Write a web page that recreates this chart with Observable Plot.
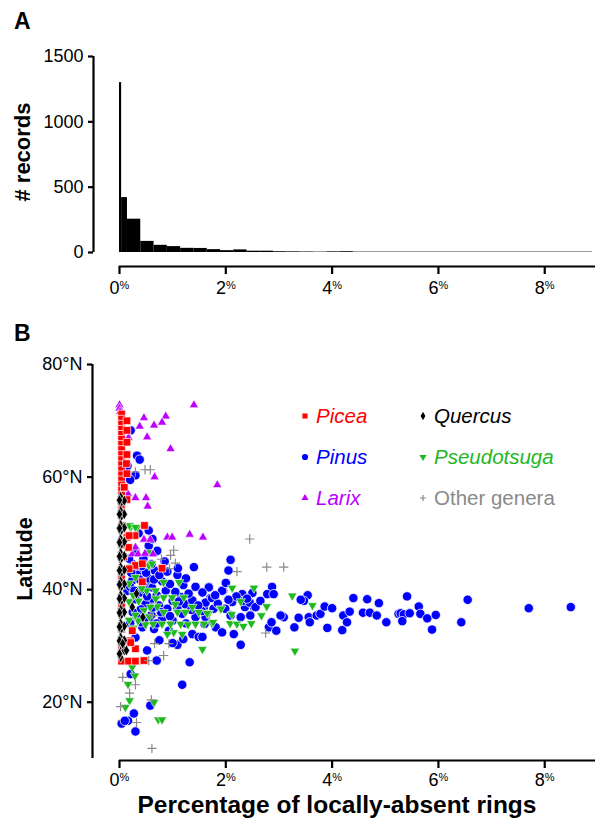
<!DOCTYPE html>
<html><head><meta charset="utf-8">
<script src="https://cdn.jsdelivr.net/npm/d3@7"></script>
<script src="https://cdn.jsdelivr.net/npm/@observablehq/plot@0.6"></script>
<style>
html,body{margin:0;padding:0;background:#fff;}
#root{position:relative;width:595px;height:821px;overflow:hidden;font-family:"Liberation Sans",Arial,Helvetica,sans-serif;}
</style></head><body><div id="root"></div>
<script>
const FONT = '"Liberation Sans", Arial, Helvetica, sans-serif';

// ---------- Panel A: histogram of % locally-absent rings ----------
const binLo = [0, 0.04, 0.15, 0.40, 0.65, 0.90, 1.15, 1.40, 1.65, 1.90, 2.15, 2.40, 2.65, 2.90, 3.15, 3.40, 3.65, 3.90, 4.15, 4.40, 4.65, 4.90, 5.15, 5.40, 5.65, 5.90, 6.15, 6.40, 6.65, 6.90, 7.15, 7.40, 7.65, 7.90, 8.15, 8.40, 8.65];
const binHi = [0.04, 0.15, 0.40, 0.65, 0.90, 1.15, 1.40, 1.65, 1.90, 2.15, 2.40, 2.65, 2.90, 3.15, 3.40, 3.65, 3.90, 4.15, 4.40, 4.65, 4.90, 5.15, 5.40, 5.65, 5.90, 6.15, 6.40, 6.65, 6.90, 7.15, 7.40, 7.65, 7.90, 8.15, 8.40, 8.65, 8.90];
const binCount = [1300, 420, 255, 85, 55, 45, 32, 31, 22, 14, 20, 10, 10, 6, 5, 4, 3, 5, 6, 3, 3, 3, 3, 3, 3, 3, 3, 3, 3, 3, 3, 3, 3, 3, 3, 3, 3];
const countTicks = [0, 500, 1000, 1500];
const pctTicks = [0, 2, 4, 6, 8];

// ---------- Panel B: latitude vs % locally-absent rings, by genus ----------
const latTicks = [20, 40, 60, 80];
const pinus = [[2.09,45.3],[2.05,43.4],[1.68,40.5],[1.95,39.8],[1.71,38.5],[2.12,37.8],[2.36,36.9],[2.53,36.9],[2.87,40.5],[2.78,39.2],[2.90,39.2],[2.31,39.2],[2.50,39.4],[2.33,38.0],[2.45,37.7],[2.56,36.9],[1.59,36.9],[1.77,36.6],[1.99,36.6],[2.09,35.4],[2.28,35.1],[2.46,35.4],[1.60,33.9],[1.81,33.3],[2.15,32.1],[2.28,30.2],[2.81,33.3],[2.95,32.7],[2.86,34.2],[3.09,35.1],[3.37,35.0],[3.29,33.3],[3.54,39.0],[3.47,38.0],[3.41,38.2],[3.56,35.1],[3.58,34.2],[3.71,35.4],[3.78,35.7],[3.86,37.0],[4.00,36.7],[3.91,33.2],[4.21,35.4],[4.28,34.2],[4.19,32.8],[4.33,36.1],[4.40,38.5],[4.58,35.9],[4.66,38.3],[4.71,35.9],[4.84,35.4],[4.88,37.6],[5.02,34.2],[5.25,35.7],[5.41,38.8],[5.63,37.0],[5.29,35.8],[5.35,35.6],[5.46,35.8],[5.66,35.7],[5.79,34.9],[5.95,35.5],[5.32,34.4],[5.88,32.9],[6.55,38.2],[6.43,34.2],[7.70,36.7],[8.49,36.9],[1.40,44.0],[1.09,42.6],[0.66,43.4],[0.71,46.9],[1.68,40.4],[1.43,40.5],[1.56,39.5],[1.15,38.7],[1.05,39.6],[0.87,39.8],[0.61,40.4],[0.49,41.4],[0.58,38.0],[0.74,37.2],[0.90,36.6],[1.09,36.7],[1.24,37.4],[1.37,38.1],[1.62,37.7],[1.74,38.5],[1.93,39.8],[1.18,35.7],[1.43,35.1],[1.62,35.1],[0.36,43.4],[0.33,42.6],[0.24,41.6],[0.40,39.5],[0.49,37.4],[0.33,35.1],[0.43,33.3],[0.65,33.0],[0.93,32.7],[1.37,32.1],[1.49,31.6],[0.52,29.2],[0.70,27.4],[1.09,30.2],[1.32,27.1],[1.18,23.1],[0.21,25.0],[0.58,19.4],[0.27,18.0],[0.16,16.7],[0.04,16.2],[0.30,14.8],[0.10,16.7],[0.33,63.8],[0.38,63.1],[0.30,60.3],[0.21,68.3],[0.15,62.0],[0.20,59.5],[3.03,35.4],[1.56,31.6],[1.93,32.4],[0.55,42.0],[0.80,41.5],[0.95,41.0],[1.20,40.8],[0.70,39.0],[1.00,38.0],[1.30,39.3],[0.40,36.5],[0.60,35.5],[0.80,34.8],[1.00,34.5],[1.25,34.0],[1.55,36.2],[1.85,37.5],[2.20,38.8],[2.00,41.2],[0.30,38.3],[0.25,44.5],[0.45,45.5],[0.30,47.0],[0.55,47.8],[0.60,44.5],[0.85,45.0],[1.10,43.8],[1.25,42.0],[0.20,34.0],[0.30,31.5],[0.75,31.0],[1.00,30.5],[1.20,31.2],[0.15,39.8],[0.36,50.0],[0.62,49.0],[0.55,50.5],[0.18,45.5],[0.22,43.0],[0.20,40.5],[0.28,39.8],[0.45,40.6],[0.38,41.8],[0.50,43.0],[0.42,44.2],[0.65,41.8],[0.75,42.6],[0.90,43.2],[0.52,38.8],[0.62,36.8],[0.78,36.0],[0.40,34.2],[0.55,34.6],[0.70,34.0],[0.25,36.0],[0.95,35.3],[1.12,37.9],[1.35,36.4],[1.48,37.2],[1.80,39.0],[2.05,38.2],[2.40,38.4],[2.65,38.0]];
const pseudotsuga = [[0.21,51.1],[0.33,51.0],[0.19,51.4],[0.55,44.3],[0.83,41.3],[1.12,41.3],[0.18,41.1],[0.68,39.8],[0.51,39.8],[0.83,38.6],[0.99,38.6],[1.21,38.6],[0.36,38.0],[0.18,37.9],[1.37,36.9],[0.71,37.0],[1.09,36.0],[1.24,36.0],[0.83,36.0],[0.46,36.3],[1.68,35.8],[1.90,36.6],[1.49,36.0],[0.18,34.6],[0.35,34.5],[0.49,33.8],[0.63,33.9],[0.80,33.9],[0.96,33.9],[1.15,33.9],[1.29,33.8],[1.43,33.9],[1.59,33.9],[1.74,34.0],[1.02,32.4],[1.18,32.1],[0.90,32.1],[1.56,29.4],[2.12,40.3],[2.53,40.3],[3.25,38.9],[3.63,37.2],[2.28,37.9],[2.77,37.0],[1.91,36.6],[2.11,35.6],[2.67,35.4],[1.65,35.8],[1.76,34.2],[2.08,34.0],[2.21,33.9],[2.33,33.5],[2.48,34.0],[3.30,29.1],[0.24,26.2],[0.29,24.7],[0.16,23.2],[0.19,20.3],[0.11,19.1],[0.65,20.0],[0.73,16.9],[0.80,16.9],[0.55,46.6],[0.61,44.6],[0.30,51.1],[0.22,44.0],[0.30,42.2],[0.42,40.2],[0.26,39.0],[0.58,36.9],[0.30,35.5],[0.26,33.2],[0.56,35.2],[1.05,37.4],[0.68,38.4]];
const larix = [[0.00,72.8],[0.00,72.2],[0.01,71.6],[1.40,72.8],[0.46,70.5],[0.87,70.8],[0.80,69.7],[0.38,69.0],[0.65,69.2],[0.52,67.1],[0.96,65.0],[0.66,60.0],[1.84,58.6],[0.30,56.3],[0.50,56.3],[0.53,54.8],[0.17,67.0],[0.16,57.0],[0.90,49.3],[0.99,49.3],[1.32,49.8],[1.57,49.3],[0.46,48.9],[0.58,48.9],[0.30,47.5],[0.24,46.3],[0.35,46.3],[0.48,46.4],[0.63,46.3]];
const picea = [[0.04,71.2],[0.04,70.3],[0.04,69.4],[0.04,68.5],[0.04,67.6],[0.04,66.7],[0.04,65.8],[0.04,64.9],[0.04,64.0],[0.04,63.1],[0.04,62.2],[0.04,61.3],[0.04,60.4],[0.04,59.5],[0.04,58.6],[0.04,57.7],[0.04,56.8],[0.04,55.9],[0.04,55.0],[0.04,53.8],[0.14,70.0],[0.14,68.3],[0.14,66.2],[0.14,64.0],[0.13,62.4],[0.14,60.6],[0.09,58.2],[0.14,56.0],[0.05,51.4],[0.14,49.3],[0.08,45.8],[0.47,51.4],[0.29,49.6],[0.18,49.6],[0.17,47.5],[0.30,44.3],[0.43,44.6],[0.18,43.7],[0.80,43.8],[0.43,41.4],[0.24,32.7],[0.19,30.9],[0.30,29.5],[0.21,30.6],[0.04,27.3],[0.17,27.3],[0.30,27.3],[0.46,27.4],[0.04,48.0],[0.04,42.0],[0.04,37.0],[0.04,33.0],[0.04,29.5]];
const quercus = [[0.02,56.5],[0.02,55.3],[0.02,54.0],[0.02,52.8],[0.02,51.5],[0.02,50.3],[0.02,49.0],[0.02,47.8],[0.02,46.5],[0.02,45.3],[0.02,44.0],[0.02,42.8],[0.02,41.5],[0.02,40.3],[0.02,39.0],[0.02,37.8],[0.02,36.5],[0.02,35.3],[0.02,34.0],[0.02,32.8],[0.02,31.5],[0.02,30.3],[0.02,29.0],[0.02,28.0],[0.09,55.8],[0.09,53.4],[0.09,51.0],[0.09,48.5],[0.09,46.0],[0.09,43.5],[0.09,41.0],[0.09,38.5],[0.09,36.0],[0.09,33.5],[0.09,31.0],[0.09,29.2],[0.00,55.9],[0.00,53.4],[0.00,50.9],[0.00,48.4],[0.00,45.9],[0.00,43.4],[0.00,40.9],[0.00,38.4],[0.00,35.9],[0.00,33.4],[0.00,30.9],[0.00,28.6],[0.32,39.3],[0.24,36.9],[0.44,35.1],[0.06,30.4],[0.13,29.2]];
const other = [[0.48,61.3],[0.58,61.3],[0.30,60.9],[1.02,47.0],[0.96,46.1],[0.79,45.4],[1.05,44.7],[0.94,43.7],[2.45,49.0],[2.21,43.2],[2.77,44.0],[3.09,44.0],[2.75,32.3],[0.63,35.4],[0.66,30.4],[0.93,30.4],[0.83,28.3],[0.55,27.4],[0.06,24.4],[0.30,23.1],[0.19,21.6],[0.02,19.2],[0.32,16.4],[0.61,11.8],[0.60,20.4]];

const legendNames = ["Picea", "Quercus", "Pinus", "Pseudotsuga", "Larix", "Other genera"];
const legendColors = ["#ff0000", "#000000", "#0000ff", "#1fb81f", "#bb00ff", "#8a8a8a"];
const legendSymbols = ["square", "diamond", "circle", "triangleDown", "triangle", "plus"];
const legendItalic = [true, true, true, true, true, false];

// ---------- helpers ----------
const ns = "http://www.w3.org/2000/svg";
const root = document.getElementById("root");
function place(svg, top) {
  svg.style.position = "absolute"; svg.style.top = top + "px"; svg.style.left = "0px";
  root.appendChild(svg);
}
function pctLabels(svg) {
  svg.querySelectorAll('g[aria-label="x-axis tick label"] text').forEach(t => {
    const v = t.textContent;
    t.textContent = "";
    const a = document.createElementNS(ns, "tspan"); a.textContent = v; t.appendChild(a);
    const b = document.createElementNS(ns, "tspan"); b.textContent = "%";
    b.setAttribute("font-size", "11"); b.setAttribute("dy", "-0.5em"); t.appendChild(b);
  });
}
const XMAX = 8.955;

// ---------- Panel A ----------
const bins = binLo.map((lo, i) => ({lo, hi: binHi[i], n: binCount[i]}));
const plotA = Plot.plot({
  width: 595, height: 310, marginTop: 56, marginBottom: 58, marginLeft: 119, marginRight: 0,
  style: {fontFamily: FONT, fontSize: "18px", background: "transparent", overflow: "visible"},
  x: {domain: [0, XMAX]}, y: {domain: [0, 1500]},
  marks: [
    Plot.rectY(bins, {x1: "lo", x2: "hi", y: "n", fill: "black"}),
    Plot.ruleY([0], {dy: 14, stroke: "black", strokeWidth: 2.2}),
    Plot.axisX(pctTicks, {tickSize: 8, dy: 14, tickPadding: 7, fontSize: 18, strokeWidth: 2.2, label: null, tickFormat: d => String(d)}),
    Plot.ruleX([0], {y1: 0, y2: 1500, dx: -26, stroke: "black", strokeWidth: 2.2}),
    Plot.axisY(countTicks, {tickSize: 5, dx: -26, tickPadding: 5, fontSize: 18, strokeWidth: 2.2, label: null, tickFormat: d => String(d)})
  ]
});
pctLabels(plotA);
place(plotA, 0);

// ---------- Panel B ----------
const gx = d => d[0], gy = d => d[1];
const plotB = Plot.plot({
  width: 595, height: 491, marginTop: 34, marginBottom: 63, marginLeft: 119, marginRight: 0,
  style: {fontFamily: FONT, fontSize: "18px", background: "transparent", overflow: "visible"},
  x: {domain: [0, XMAX]}, y: {domain: [10, 80]},
  marks: [
    Plot.ruleY([10], {dy: 2, stroke: "black", strokeWidth: 2.2}),
    Plot.axisX(pctTicks, {tickSize: 8, dy: 2, tickPadding: 5, fontSize: 18, strokeWidth: 2.2, label: null, tickFormat: d => String(d)}),
    Plot.ruleX([0], {y1: 10, y2: 80, dx: -27, stroke: "black", strokeWidth: 2.2}),
    Plot.axisY(latTicks, {tickSize: 5, dx: -27, tickPadding: 5, fontSize: 18, strokeWidth: 2.2, label: null, tickFormat: d => d + "°N"}),
    Plot.dot(pinus, {x: gx, y: gy, symbol: "circle", r: 4.7, fill: legendColors[2], stroke: "white", strokeWidth: 0.8}),
    Plot.dot(pseudotsuga, {x: gx, y: gy, symbol: "triangle", rotate: 180, r: 3.5, fill: legendColors[3], stroke: "white", strokeWidth: 0.6}),
    Plot.dot(larix, {x: gx, y: gy, symbol: "triangle", r: 3.4, fill: legendColors[4], stroke: "white", strokeWidth: 0.6}),
    Plot.dot(picea, {x: gx, y: gy, symbol: "square", r: 4.3, fill: legendColors[0], stroke: "white", strokeWidth: 0.7}),
    Plot.dot(quercus, {x: gx, y: gy, symbol: "diamond", r: 3.4, fill: legendColors[1], stroke: "white", strokeWidth: 0.7}),
    Plot.dot(other, {x: gx, y: gy, symbol: "plus", r: 3.1, fill: "none", stroke: legendColors[5], strokeWidth: 1.2})
  ]
});
pctLabels(plotB);
place(plotB, 330);

// ---------- Overlay: panel letters, axis titles, legend ----------
const ov = d3.create("svg").attr("width", 595).attr("height", 821)
  .style("position", "absolute").style("top", "0px").style("left", "0px")
  .style("font-family", FONT);
ov.append("text").attr("x", 14).attr("y", 29).attr("font-size", 23).attr("font-weight", "bold").text("A");
ov.append("text").attr("x", 14).attr("y", 341).attr("font-size", 23).attr("font-weight", "bold").text("B");
ov.append("text").attr("transform", "translate(30,152) rotate(-90)").attr("text-anchor", "middle")
  .attr("font-size", 22).attr("font-weight", "bold").text("# records");
ov.append("text").attr("transform", "translate(32,559) rotate(-90)").attr("text-anchor", "middle")
  .attr("font-size", 21.5).attr("font-weight", "bold").text("Latitude");
ov.append("text").attr("x", 337).attr("y", 813).attr("text-anchor", "middle")
  .attr("font-size", 24.5).attr("font-weight", "bold").text("Percentage of locally-absent rings");

const symMap = {square: [d3.symbolSquare, 26, 0], diamond: [d3.symbolDiamond, 20, 0], circle: [d3.symbolCircle, 30, 0],
  triangleDown: [d3.symbolTriangle, 22, 180], triangle: [d3.symbolTriangle, 22, 0], plus: [d3.symbolPlus, 14, 0]};
const colX = [305, 423], rowBase = [423, 464, 505];
legendNames.forEach((name, i) => {
  const cx = colX[i % 2], base = rowBase[Math.floor(i / 2)];
  const [type, size, rot] = symMap[legendSymbols[i]];
  const isPlus = legendSymbols[i] === "plus";
  ov.append("path").attr("d", d3.symbol(type, size)())
    .attr("transform", `translate(${cx},${base - 7}) rotate(${rot})`)
    .attr("fill", isPlus ? "none" : legendColors[i])
    .attr("stroke", isPlus ? legendColors[i] : "none").attr("stroke-width", 1.2);
  ov.append("text").attr("x", cx + 11).attr("y", base).attr("font-size", 20.5)
    .attr("font-style", legendItalic[i] ? "italic" : "normal").attr("fill", legendColors[i]).text(name);
});
root.appendChild(ov.node());
</script>
</body></html>
